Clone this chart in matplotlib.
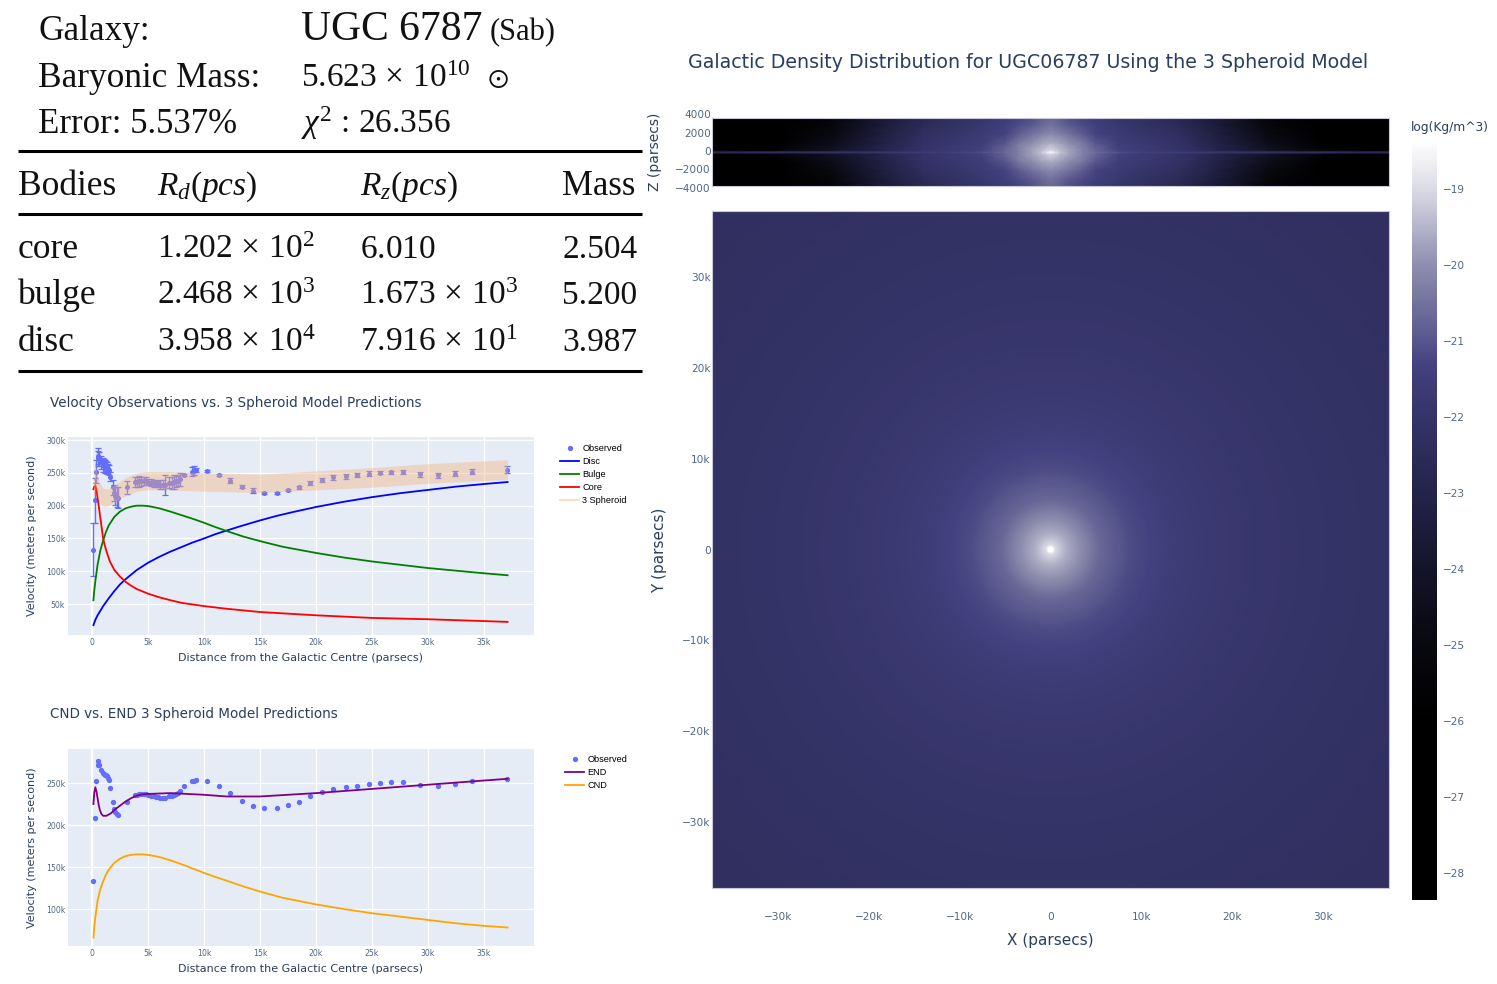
import matplotlib
matplotlib.use("Agg")
import matplotlib.pyplot as plt
import numpy as np
from matplotlib.colors import LinearSegmentedColormap, Normalize
from matplotlib.cm import ScalarMappable
from matplotlib.lines import Line2D

W, H = 1497, 984
INK = "#2a3f5f"
TICK = "#506784"

plt.rcParams["font.family"] = "DejaVu Sans"
plt.rcParams["mathtext.fontset"] = "custom"
plt.rcParams["mathtext.rm"] = "Liberation Serif"
plt.rcParams["mathtext.it"] = "Liberation Serif:italic"
plt.rcParams["mathtext.fallback"] = "stix"

# header + table
bodies = ["core", "bulge", "disc"]
rd_vals = [r"$1.202\,\times\,10^{2}$", r"$2.468\,\times\,10^{3}$", r"$3.958\,\times\,10^{4}$"]
rz_vals = [r"$6.010$", r"$1.673\,\times\,10^{3}$", r"$7.916\,\times\,10^{1}$"]
mass_vals = ["2.504", "5.200", "3.987"]

# observed rotation curve
obs_r = [0.13, 0.25, 0.38, 0.5, 0.58, 0.65, 0.85, 0.95, 1.05, 1.15, 1.25, 1.35, 1.45, 1.55, 1.65,
         1.9, 2.0, 2.1, 2.2, 2.3, 3.1, 3.8, 4.0, 4.2, 4.4, 4.6, 4.8, 5.0, 5.3, 5.5, 5.7, 5.9, 6.1,
         6.3, 6.5, 6.9, 7.1, 7.3, 7.5, 7.7, 7.9, 8.2, 8.95, 9.1, 9.25, 10.25, 11.3, 12.3, 13.35,
         14.35, 15.4, 16.5, 17.5, 18.5, 19.5, 20.55, 21.55, 22.7, 23.7, 24.7, 25.7, 26.7, 27.75,
         29.3, 30.9, 32.4, 33.9, 37.05]
obs_v = [133, 208, 252, 272, 276, 271, 266, 262, 261, 260, 259, 258, 256, 254, 244,
         228, 219, 215, 213, 212, 228, 236, 236, 237, 237, 237, 237, 236, 235, 234, 233.5, 233, 232,
         232, 232, 235, 235, 236, 237, 238, 240, 247, 252, 253, 254, 253, 247, 238, 229,
         223, 220, 220, 224, 228, 234, 239, 243, 245, 247, 249, 250, 251, 251,
         248, 246, 249, 252, 255]
obs_err = [40, 34, 18, 12, 12, 11, 10, 10, 10, 10, 9, 9, 8, 8, 7,
           11, 12, 14, 15, 16, 10, 8, 8, 8, 7, 6, 6, 5, 5, 5, 5, 5, 7,
           7, 15, 8, 9, 10, 8, 8, 10, 1.5, 7, 7, 3, 1.5, 2, 3.5, 2,
           4, 1.5, 1.5, 2, 2.5, 3, 3.5, 3.5, 4, 3, 3.5, 2.5, 2.5, 3.5,
           4, 3.5, 4, 4, 5]

disc_r = [0.13, 0.3, 0.5, 0.75, 1, 1.5, 2, 2.5, 3, 3.5, 4, 5, 6, 7, 8, 9, 10, 11, 12, 13.5, 15, 16.5, 18, 20,
          22.5, 25, 27.5, 30, 32.5, 35, 37.1]
disc_v = [18, 26, 33, 40, 47, 59, 70, 80, 88, 95, 102, 113, 122, 130, 137, 144, 150, 156.5, 162, 170, 177.5, 184.5,
          190.5, 198, 206, 213, 219, 224, 229, 233, 236]
bulge_r = [0.13, 0.2, 0.3, 0.5, 0.75, 1, 1.25, 1.5, 2, 2.5, 3, 3.5, 4, 4.5, 5, 6, 7, 8, 9, 10, 11, 12, 13.5, 15, 17,
           20, 22.5, 25, 27.5, 30, 32.5, 35, 37.1]
bulge_v = [56, 70, 85, 110, 132, 147, 160, 170, 183, 191, 196, 198.5, 200, 200, 199.5, 196, 191, 185.5, 180, 174,
           167.5, 161.5, 153, 146, 137.5, 128, 121, 115, 110, 105, 101, 97, 94]
core_r = [0.13, 0.2, 0.3, 0.4, 0.5, 0.6, 0.7, 0.8, 0.9, 1, 1.15, 1.3, 1.6, 2, 2.5, 3, 3.5, 4, 5, 6, 7, 8, 10, 12, 15,
          20, 25, 30, 37.1]
core_v = [225, 229, 230, 225, 212, 200, 187, 175, 162, 150, 139, 130, 115, 102, 92, 84, 78, 73, 66, 60.5, 56, 52, 47,
          43, 38, 33, 29, 27, 23]

band_r = [0.13, 0.3, 0.6, 1, 1.5, 2, 3, 4, 5, 7, 10, 15, 20, 25, 30, 37.1]
band_lo = [212, 228, 208, 198, 200, 205, 215, 222, 224, 224, 222, 220, 224, 228, 234, 240]
band_hi = [240, 260, 238, 226, 226, 232, 243, 250, 252, 252, 250, 248, 253, 258, 264, 270]

end_r = [0.13, 0.2, 0.3, 0.4, 0.5, 0.6, 0.7, 0.85, 1, 1.3, 1.7, 2, 2.5, 3, 3.5, 4, 4.5, 5, 7, 10, 12, 15, 20, 25, 30,
         35, 37.1]
end_v = [225, 238, 245, 240, 232, 224, 218, 213, 211, 211, 214, 218, 223, 228, 232, 235, 236.5, 237, 238, 236, 234,
         234, 238, 243, 248, 253, 255]
cnd_r = [0.13, 0.2, 0.3, 0.5, 0.75, 1, 1.25, 1.5, 2, 2.5, 3, 3.5, 4, 4.5, 5, 6, 7, 8, 9, 10, 11, 12, 13.5, 15, 17, 20,
         22.5, 25, 27.5, 30, 32.5, 35, 37.1]
cnd_v = [66, 78, 90, 110, 124, 133, 141, 147, 155, 160, 163, 164.5, 165, 165, 164.5, 162, 158, 153.3, 148.2, 143,
         138.3, 133.8, 127, 120.8, 113.5, 105.5, 100, 95, 91, 87, 83, 80, 78]

v_ticks_top = [50, 100, 150, 200, 250, 300]
v_ticks_bot = [100, 150, 200, 250]
r_ticks = [0, 5, 10, 15, 20, 25, 30, 35]

# density: radial profile of the face-on view
prof_r = [0, 0.3, 0.5, 1, 1.8, 3.6, 5.5, 8.8, 11, 15, 20, 30, 40, 53]
prof_rho = [-18.35, -18.4, -19.0, -19.25, -19.6, -20.1, -20.7, -21.15, -21.3, -21.6, -21.8, -22.0, -22.15, -22.3]

# density: edge-on view, one quadrant
edge_x = [0, 1, 2, 3.5, 5, 7.5, 10, 14, 18, 24, 30, 38]
edge_z = [0, 80, 200, 1000, 2000, 3000, 3800]
edge_rho = [
    [-18.4, -19.3, -19.7, -20.2, -20.6, -21.1, -21.3, -21.5, -21.8, -22.1, -22.3, -22.6],
    [-18.6, -19.35, -19.75, -20.25, -20.7, -21.2, -21.45, -21.8, -22.1, -22.5, -22.8, -23.0],
    [-19.0, -19.4, -19.7, -20.2, -20.7, -21.3, -21.6, -22.0, -22.8, -24.2, -25.5, -27.0],
    [-19.6, -19.75, -20.0, -20.4, -21.0, -21.5, -21.75, -22.1, -23.0, -24.6, -26.0, -27.5],
    [-20.1, -20.25, -20.5, -20.9, -21.3, -21.65, -21.9, -22.3, -23.2, -24.9, -26.3, -27.5],
    [-20.5, -20.7, -20.95, -21.15, -21.4, -21.8, -22.05, -22.5, -23.4, -25.2, -26.6, -27.5],
    [-20.7, -20.85, -21.1, -21.3, -21.55, -21.95, -22.2, -22.7, -23.6, -25.4, -26.8, -27.5],
]

cb_ticks = [-19, -20, -21, -22, -23, -24, -25, -26, -27, -28]
map_ticks = [-30, -20, -10, 0, 10, 20, 30]
z_ticks = [-4000, -2000, 0, 2000, 4000]

# colour scale
cs_val = [-28.36, -26, -25, -24, -23, -22, -21.3, -21, -20, -19, -18.35]
cs_col = ["#000000", "#000000", "#08080f", "#141429", "#24234a", "#353468", "#43417f",
          "#57568c", "#8e8dae", "#dadae5", "#ffffff"]
norm = Normalize(cs_val[0], cs_val[-1])
cmap = LinearSegmentedColormap.from_list("galaxy", [(norm(v), c) for v, c in zip(cs_val, cs_col)], N=512)


def px_axes(fig, x0, y0, x1, y1):
    return fig.add_axes([x0 / W, 1 - y1 / H, (x1 - x0) / W, (y1 - y0) / H])


def k_label(v):
    if v == 0:
        return "0"
    return ("\u2212" if v < 0 else "") + f"{abs(v)}k"


def style_curve_ax(ax, yticks, ylim):
    ax.set_facecolor("#e5ecf6")
    ax.set_xticks(r_ticks)
    ax.set_xticklabels([k_label(v) for v in r_ticks])
    ax.set_yticks(yticks)
    ax.set_yticklabels([k_label(v) for v in yticks])
    ax.set_xlim(-2.14, 39.46)
    ax.set_ylim(*ylim)
    ax.grid(True, color="white", linewidth=0.9)
    ax.set_axisbelow(True)
    ax.tick_params(length=0, labelsize=5.6, labelcolor=TICK, pad=2)
    for s in ax.spines.values():
        s.set_visible(False)
    ax.axvline(0, color="white", linewidth=1.6, zorder=0.9)


fig = plt.figure(figsize=(W / 100, H / 100), dpi=100)

# pixel canvas for the table text
bg = fig.add_axes([0, 0, 1, 1])
bg.set_xlim(0, W)
bg.set_ylim(H, 0)
bg.axis("off")


def serif(x, y, s, size=24):
    bg.text(x, y, s, family="Liberation Serif", fontsize=size, color="#111111", va="baseline", ha="left")


serif(38, 40, "Galaxy:", 25.4)
serif(38, 87, "Baryonic Mass:", 25.4)
serif(38, 133, "Error: 5.537%", 25)
serif(301, 40, "UGC 6787", 30)
serif(490, 40, "(Sab)", 22)
serif(301, 87, r"$5.623\,\times\,10^{10}$")
serif(487, 86, r"$\odot$", 20)
serif(301, 133, r"$\chi^{2}$ : 26.356")
for y in [151, 214, 371]:
    bg.plot([18, 642], [y, y], color="black", linewidth=2.2, solid_capstyle="butt")
serif(18, 195, "Bodies", 25.5)
serif(157, 195, r"$R_{d}(pcs)$")
serif(360, 195, r"$R_{z}(pcs)$")
serif(562, 195, "Mass", 25)
for i, y in enumerate([258, 304, 351]):
    serif(18, y, bodies[i], 25.5)
    serif(157, y, rd_vals[i])
    serif(360, y, rz_vals[i])
    serif(562, y, mass_vals[i])

# velocity panel
ax1 = px_axes(fig, 68, 437, 534, 635)
style_curve_ax(ax1, v_ticks_top, (3, 304.6))
ax1.errorbar(obs_r, obs_v, yerr=obs_err, fmt="o", color="#636efa", markersize=2.6, linewidth=1,
             capsize=2.2, capthick=0.9, zorder=2)
ax1.plot(disc_r, disc_v, color="blue", linewidth=1.3, zorder=3)
ax1.plot(bulge_r, bulge_v, color="green", linewidth=1.3, zorder=3)
ax1.plot(core_r, core_v, color="red", linewidth=1.3, zorder=3)
ax1.fill_between(band_r, band_lo, band_hi, color="#f7b27a", alpha=0.4, linewidth=0, zorder=4)
handles1 = [Line2D([], [], marker="o", linestyle="none", color="#636efa", markersize=2.8),
            Line2D([], [], color="blue", linewidth=1.3),
            Line2D([], [], color="green", linewidth=1.3),
            Line2D([], [], color="red", linewidth=1.3),
            Line2D([], [], color="#f7b27a", alpha=0.4, linewidth=1.5)]
ax1.legend(handles1, ["Observed", "Disc", "Bulge", "Core", "3 Spheroid"], loc="upper left",
           bbox_to_anchor=(560 / W, 1 - 444 / H), bbox_transform=fig.transFigure, frameon=False,
           labelspacing=0.43, handlelength=2.1, handletextpad=0.35, borderpad=0, borderaxespad=0,
           prop={"family": "Liberation Sans", "size": 6.6})
bg.text(50, 407, "Velocity Observations vs. 3 Spheroid Model Predictions", fontsize=9.75, color=INK)
bg.text(301, 658, "Distance from the Galactic Centre (parsecs)", fontsize=8, color=INK, ha="center", va="center")
bg.text(32, 536, "Velocity (meters per second)", fontsize=8, color=INK, ha="center", va="center", rotation=90)

# CND / END panel
ax2 = px_axes(fig, 68, 749, 534, 946)
style_curve_ax(ax2, v_ticks_bot, (56, 290.5))
ax2.plot(obs_r, obs_v, "o", color="#636efa", markersize=2.8, label="Observed", zorder=2)
ax2.plot(end_r, end_v, color="purple", linewidth=1.3, label="END", zorder=3)
ax2.plot(cnd_r, cnd_v, color="orange", linewidth=1.3, label="CND", zorder=3)
ax2.legend(loc="upper left", bbox_to_anchor=(565 / W, 1 - 755 / H), bbox_transform=fig.transFigure, frameon=False,
           labelspacing=0.43, handlelength=2.1, handletextpad=0.35, borderpad=0, borderaxespad=0,
           prop={"family": "Liberation Sans", "size": 6.6})
bg.text(50, 718, "CND vs. END 3 Spheroid Model Predictions", fontsize=9.75, color=INK)
bg.text(301, 969, "Distance from the Galactic Centre (parsecs)", fontsize=8, color=INK, ha="center", va="center")
bg.text(32, 848, "Velocity (meters per second)", fontsize=8, color=INK, ha="center", va="center", rotation=90)

# edge-on density strip
strip = px_axes(fig, 712, 118, 1389, 186)
ex = np.array(edge_x)
ez = np.array(edge_z, dtype=float)
rho = np.array(edge_rho)
rho_x = np.hstack([rho[:, :0:-1], rho])
rho_full = np.vstack([rho_x[:0:-1], rho_x])
strip.pcolormesh(np.r_[-ex[:0:-1], ex], np.r_[-ez[:0:-1], ez], rho_full, cmap=cmap, norm=norm, shading="gouraud",
                 rasterized=True)
strip.set_xlim(-37.3, 37.3)
strip.set_ylim(-3730, 3730)
strip.set_xticks([])
strip.set_yticks([])
for s in strip.spines.values():
    s.set_color("#c8c8d8")
    s.set_linewidth(0.8)
# the 4000 labels sit just past the strip's edge, so they are placed by hand
for z in z_ticks:
    bg.text(711, 152 - z / 2000 * 18.25, str(z).replace("-", "\u2212"), fontsize=7.6, color=TICK,
            ha="right", va="center")
bg.text(655, 152, "Z (parsecs)", fontsize=10, color=INK, ha="center", va="center", rotation=90)

# face-on density map
face = px_axes(fig, 712, 211, 1389, 888)
grid = np.linspace(-37.3, 37.3, 601)
gx, gy = np.meshgrid(grid, grid)
face.imshow(np.interp(np.hypot(gx, gy), prof_r, prof_rho), cmap=cmap, norm=norm, origin="lower",
            extent=(-37.3, 37.3, -37.3, 37.3), interpolation="bilinear", aspect="auto")
face.set_xticks(map_ticks)
face.set_xticklabels([k_label(v) for v in map_ticks])
face.set_yticks(map_ticks)
face.set_yticklabels([k_label(v) for v in map_ticks])
face.tick_params(axis="x", length=0, labelsize=7.6, labelcolor=TICK, pad=17)
face.tick_params(axis="y", length=0, labelsize=7.6, labelcolor=TICK, pad=1)
for s in face.spines.values():
    s.set_color("#c8c8d8")
    s.set_linewidth(0.8)
bg.text(1050, 940, "X (parsecs)", fontsize=11, color=INK, ha="center", va="center")
bg.text(660, 550, "Y (parsecs)", fontsize=11, color=INK, ha="center", va="center", rotation=90)

bg.text(1028, 62, "Galactic Density Distribution for UGC06787 Using the 3 Spheroid Model", fontsize=13.7, color=INK,
        ha="center", va="center")

# colourbar
cax = px_axes(fig, 1412, 140, 1437, 900)
cb = fig.colorbar(ScalarMappable(norm=norm, cmap=cmap), cax=cax)
cb.set_ticks(cb_ticks)
cb.set_ticklabels([str(v).replace("-", "\u2212") for v in cb_ticks])
cb.ax.tick_params(length=0, labelsize=7.6, labelcolor=TICK, pad=4)
cb.outline.set_visible(False)
bg.text(1450, 128, "log(Kg/m^3)", fontsize=8.8, color=INK, ha="center", va="center")

fig.savefig("out.png", dpi=100)
